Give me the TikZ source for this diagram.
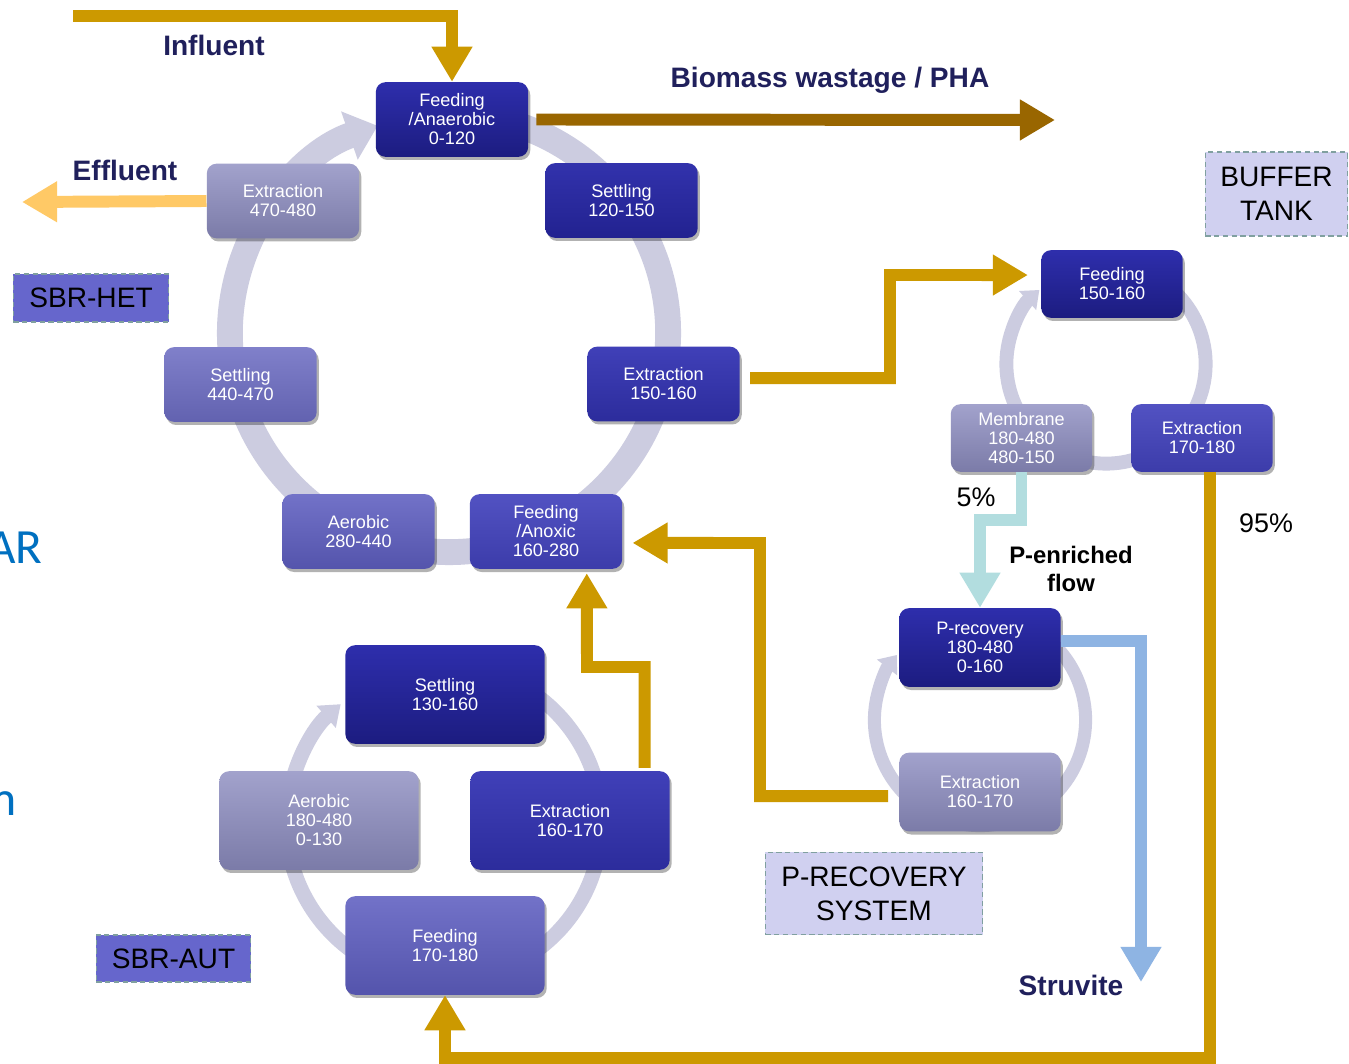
\documentclass[tikz,border=0pt]{standalone}
\usepackage{fontspec}
\setmainfont{Liberation Sans}
\newfontfamily\slidefont{Carlito}
\usetikzlibrary{arrows.meta,shadows}

\definecolor{flowgold}{HTML}{CC9900}
\definecolor{flowbrown}{HTML}{996600}
\definecolor{flowlight}{HTML}{FFC966}
\definecolor{flowteal}{HTML}{B2DDDF}
\definecolor{flowblue}{HTML}{8EB4E3}
\definecolor{ringgrey}{HTML}{CCCCE0}
\definecolor{navytext}{HTML}{20205C}
\definecolor{tagblue}{HTML}{6666CC}
\definecolor{taglav}{HTML}{D0D0F0}
\definecolor{tagedge}{HTML}{80A0A0}
\definecolor{slideblue}{HTML}{0070C0}

% stage fills, top and bottom of each gradient
\definecolor{navyT}{HTML}{2E2EAC}  \definecolor{navyB}{HTML}{1C1C80}
\definecolor{setT}{HTML}{3232AC}   \definecolor{setB}{HTML}{222290}
\definecolor{extT}{HTML}{4040B8}   \definecolor{extB}{HTML}{2C2C9C}
\definecolor{anoxT}{HTML}{5252C2}  \definecolor{anoxB}{HTML}{3C3CAA}
\definecolor{aerT}{HTML}{7272C8}   \definecolor{aerB}{HTML}{5454AC}
\definecolor{s44T}{HTML}{8080CA}   \definecolor{s44B}{HTML}{6262B0}
\definecolor{paleT}{HTML}{A2A2CC}  \definecolor{paleB}{HTML}{7B7BA8}

\newcommand\stagefont{\fontsize{10.3}{10.8}\selectfont}
\newcommand\flowfont{\bfseries\fontsize{16}{19}\selectfont}
\newcommand\tagfont{\fontsize{16}{19.3}\selectfont}

\tikzset{
  stage/.style={rounded corners=5.5pt, text=white, align=center, inner sep=0pt,
    font=\stagefont,
    drop shadow={shadow xshift=1.2pt, shadow yshift=-1.8pt, opacity=0.3, fill=black}},
  sh/.style 2 args={top color=#1, bottom color=#2},
  hetbox/.style={stage, minimum width=86.7pt, minimum height=42.5pt},
  bufbox/.style={stage, minimum width=80.5pt, minimum height=38.5pt},
  precbox/.style={stage, minimum width=91.8pt, minimum height=44.8pt},
  autbox/.style={stage, minimum width=113.4pt, minimum height=56.1pt},
  ring/.style={draw=ringgrey},
  flow/.style={draw=flowgold, line width=6.8pt,
    -{Triangle[width=22pt,length=20pt]}},
  flowlabel/.style={text=navytext, font=\flowfont, inner sep=0pt},
  plainlabel/.style={text=black, font=\fontsize{15.3}{18}\selectfont, inner sep=0pt},
  tagbox/.style={draw=tagedge, dashed, dash pattern=on 3pt off 2pt, line width=0.8pt,
    text=black, font=\tagfont, align=center, inner sep=0pt}
}

\begin{document}
\begin{tikzpicture}[x=0.02cm, y=-0.02cm]
\useasboundingbox (0,0) rectangle (1349,1064);
\fill[white] (0,0) rectangle (1349,1064);

% ---------- cycle rings ----------
\coordinate (hetc) at (449,333);
\coordinate (bufc) at (1106,364);
\coordinate (precc) at (980,720);
\coordinate (autc) at (444,823);

\draw[ring, line width=14.7pt, -{Triangle[width=28pt,length=17pt]}]
  (hetc) ++(80:124.7pt) arc[start angle=80, end angle=-251, radius=124.7pt];
\draw[ring, line width=7.9pt, -{Triangle[width=14pt,length=9pt]}]
  (bufc) ++(80:56.7pt) arc[start angle=80, end angle=-228, radius=56.7pt];
\draw[ring, line width=7.4pt, -{Triangle[width=14pt,length=9pt]}]
  (precc) ++(80:60.1pt) arc[start angle=80, end angle=-218, radius=60.1pt];
\draw[ring, line width=8.5pt, -{Triangle[width=16pt,length=11pt]}]
  (autc) ++(80:89.6pt) arc[start angle=80, end angle=-229, radius=89.6pt];

% ---------- SBR-HET stages ----------
\node[hetbox, sh={navyT}{navyB}] (fa) at (452,119.5) {Feeding\\/Anaerobic\\0-120};
\node[hetbox, sh={setT}{setB}] (s120) at (621.5,200.5) {Settling\\120-150};
\node[hetbox, sh={extT}{extB}] (ex150) at (663.5,384) {Extraction\\150-160};
\node[hetbox, sh={anoxT}{anoxB}] (fan) at (546,531.5) {Feeding\\/Anoxic\\160-280};
\node[hetbox, sh={aerT}{aerB}] (aer) at (358.5,531.5) {Aerobic\\280-440};
\node[hetbox, sh={s44T}{s44B}] (s440) at (240.5,384.5) {Settling\\440-470};
\node[hetbox, sh={paleT}{paleB}] (ex470) at (283,201) {Extraction\\470-480};

% ---------- buffer tank stages ----------
\node[bufbox, sh={navyT}{navyB}] (bf) at (1112,284) {Feeding\\150-160};
\node[bufbox, sh={paleT}{paleB}] (mem) at (1021.5,438) {Membrane\\180-480\\480-150};
\node[bufbox, sh={anoxT}{anoxB}] (ex170) at (1202,438) {Extraction\\170-180};

% ---------- P-recovery stages ----------
\node[precbox, sh={navyT}{navyB}] (pr) at (980,647.5) {P-recovery\\180-480\\0-160};
\node[precbox, sh={paleT}{paleB}] (pex) at (980,792) {Extraction\\160-170};

% ---------- SBR-AUT stages ----------
\node[autbox, sh={navyT}{navyB}] (as) at (445,694.5) {Settling\\130-160};
\node[autbox, sh={extT}{extB}] (ae) at (570,820.5) {Extraction\\160-170};
\node[autbox, sh={paleT}{paleB}] (aa) at (319,820.5) {Aerobic\\180-480\\0-130};
\node[autbox, sh={aerT}{aerB}] (af) at (445,945.5) {Feeding\\170-180};

% ---------- flows ----------
\coordinate (inS) at (73,16);
\draw[flow] (inS) -| (fa.north);

\coordinate (bioE) at (1055,120);
\draw[flow, draw=flowbrown] ([xshift=4.5pt]fa.east) -- (bioE);

\coordinate (effE) at (22,202);
\draw[flow, draw=flowlight] (ex470.west) -- (effE);

\coordinate (k1) at (890,275);
\draw[flow] ([xshift=5.7pt,yshift=3.4pt]ex150.east) -| (k1)
  -- ([xshift=-7.4pt,yshift=5.1pt]bf.west);

\coordinate (k2) at (445,1058);
\draw[flow] ([xshift=4.5pt]ex170.south) |- (k2) -- (af.south);

\coordinate (k3) at (760,543);
\draw[flow] ([xshift=-6.2pt,yshift=-2.3pt]pex.west) -| (k3)
  -- ([xshift=5.7pt,yshift=-6.5pt]fan.east);

\coordinate (k4) at (587,667);
\draw[flow] ([xshift=42.5pt,yshift=1.7pt]ae.north) |- (k4)
  -- ([xshift=23.2pt,yshift=-2.3pt]fan.south);

\coordinate (k5) at (980,520);
\draw[flow, draw=flowteal] (mem.south) |- (k5) -- (pr.north);

\coordinate (k6) at (1141,982);
\draw[flow, draw=flowblue] ([yshift=3.7pt]pr.east) -| (k6);

% ---------- flow labels ----------
\node[flowlabel] (linf) at (214,45) {Influent};
\node[flowlabel] (leff) at (125,170) {Effluent};
\node[flowlabel] (lbio) at (830,80) {Biomass wastage / PHA};
\node[flowlabel] (lstr) at (1071,985) {Struvite};
\node[text=black, font=\bfseries\fontsize{13.6}{16}\selectfont, align=center, inner sep=0pt]
  (lpen) at (1071,569) {P-enriched\\flow};
\node[plainlabel] (l5) at (976,497) {5\%};
\node[plainlabel] (l95) at (1266,523) {95\%};

% ---------- system tags ----------
\node[tagbox, fill=tagblue, minimum width=88.4pt, minimum height=27.2pt] (thet) at (91,298) {SBR-HET};
\node[tagbox, fill=tagblue, minimum width=87.9pt, minimum height=26.6pt] (taut) at (173.5,958.5) {SBR-AUT};
\node[tagbox, fill=taglav, minimum width=81pt, minimum height=47.6pt] (tbuf) at (1276.5,194) {BUFFER\\TANK};
\node[tagbox, fill=taglav, minimum width=123.6pt, minimum height=47pt] (tprs) at (874,893.5) {P-RECOVERY\\SYSTEM};

% ---------- text running in from the left margin ----------
\node[anchor=base east, text=slideblue, font=\slidefont\fontsize{28}{32}\selectfont, inner sep=0pt] (sar) at (43,563) {AR};
\node[anchor=base east, text=slideblue, font=\slidefont\fontsize{28}{32}\selectfont, inner sep=0pt] (sm) at (17,815) {m};
\end{tikzpicture}
\end{document}
